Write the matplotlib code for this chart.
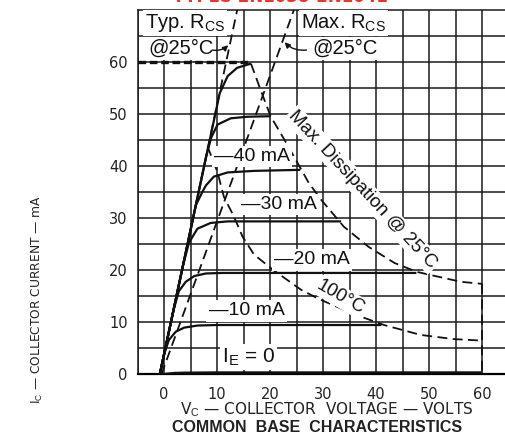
import matplotlib
matplotlib.use("Agg")
import matplotlib.pyplot as plt

# collector characteristics (V in volts, I in mA)
ie0_v = [-0.8, 0.5, 2.0, 4.0, 10.0, 60.0]
ie0_i = [0.0, 0.15, 0.3, 0.35, 0.4, 0.4]
ie10_v = [-0.8, 0.0, 0.9, 2.2, 3.8, 6.3, 10.0, 41.0]
ie10_i = [0.0, 3.8, 6.6, 8.2, 9.0, 9.4, 9.5, 9.5]
ie20_v = [-0.8, 1.8, 2.8, 4.1, 5.7, 7.9, 11.0, 47.6]
ie20_i = [0.0, 12.4, 16.0, 17.8, 18.9, 19.4, 19.5, 19.5]
ie30_v = [-0.8, 3.6, 4.7, 6.3, 8.8, 12.0, 33.4]
ie30_i = [0.0, 21.0, 25.3, 28.0, 29.1, 29.4, 29.4]
ie40_v = [-0.8, 6.0, 7.2, 7.9, 9.4, 12.0, 17.0, 25.7]
ie40_i = [0.0, 32.5, 35.0, 36.3, 38.0, 38.8, 39.1, 39.3]
ie50_v = [-0.8, 8.0, 8.9, 10.1, 12.6, 15.7, 20.1]
ie50_i = [0.0, 42.1, 45.5, 48.0, 49.2, 49.5, 49.6]
ie60_v = [-0.8, 10.5, 12.0, 13.8, 16.4]
ie60_i = [0.0, 54.0, 57.3, 58.9, 59.7]

# dissipation limits
diss25_v = [16.4, 18.2, 20.1, 22.7, 25.2, 27.3, 29.6, 33.9, 38.6, 43.5, 47.7, 52.5, 56.0, 60.0]
diss25_i = [59.7, 54.7, 49.6, 45.1, 40.6, 36.8, 33.6, 28.4, 24.5, 21.4, 19.7, 18.6, 17.8, 17.4]
diss100_v = [8.2, 10.1, 11.3, 13.2, 14.8, 17.0, 20.7, 25.8, 29.0, 35.8, 41.5, 48.4, 54.6, 60.0]
diss100_i = [43.8, 38.8, 34.1, 30.3, 26.5, 23.0, 20.0, 16.3, 14.6, 11.6, 9.5, 7.6, 6.8, 6.5]

# saturation resistance lines and the voltage / current limits
typ_rcs_v = [-0.8, 13.8]
typ_rcs_i = [0.0, 70.0]
max_rcs_v = [-0.5, 24.5]
max_rcs_i = [0.0, 70.0]
imax_v = [-5.0, 16.4]
imax_i = [60.0, 60.0]
vmax_v = [60.0, 60.0]
vmax_i = [17.4, 0.0]

x_ticks = [0, 10, 20, 30, 40, 50, 60]
y_ticks = [0, 10, 20, 30, 40, 50, 60]

narrow = ['Liberation Sans', 'DejaVu Sans']
plt.rcParams['mathtext.fontset'] = 'custom'
plt.rcParams['mathtext.rm'] = 'Liberation Sans'

fig = plt.figure(figsize=(5.05, 4.36), dpi=100)
ax = fig.add_axes([0.2723, 0.1411, 0.7349, 0.836])
ax.set_xlim(-5, 65)
ax.set_ylim(0, 70)

ax.set_xticks(x_ticks)
ax.set_yticks(y_ticks)
ax.set_xticks([v for v in range(-5, 66, 5) if v % 10], minor=True)
ax.set_yticks([v for v in range(5, 71, 10)], minor=True)
ax.grid(which='both', color='#1a1a1a', lw=1.1, zorder=0)
ax.tick_params(which='both', length=0)
ax.tick_params(axis='x', labelsize=10.5, pad=9, colors='#222222')
ax.tick_params(axis='y', labelsize=10.5, pad=7, colors='#222222')
for s in ['left', 'top']:
    ax.spines[s].set_linewidth(1.1)
    ax.spines[s].set_color('#1a1a1a')
ax.spines['bottom'].set_linewidth(1.6)
ax.spines['right'].set_visible(False)

solid = dict(color='#111111', lw=1.6, zorder=4, solid_capstyle='butt')
for v, i in [(ie0_v, ie0_i), (ie10_v, ie10_i), (ie20_v, ie20_i), (ie30_v, ie30_i),
             (ie40_v, ie40_i), (ie50_v, ie50_i), (ie60_v, ie60_i)]:
    ax.plot(v, i, **solid)

dash = dict(color='#111111', lw=1.3, ls=(0, (5.5, 3)), zorder=3)
ax.plot(diss25_v, diss25_i, **dash)
ax.plot(diss100_v, diss100_i, **dash)
ax.plot(typ_rcs_v, typ_rcs_i, **dash)
ax.plot(max_rcs_v, max_rcs_i, **dash)
ax.plot(vmax_v, vmax_i, **dash)
ax.plot(imax_v, imax_i, color='#111111', lw=2.4, ls=(0, (2.3, 1.1)), zorder=3)

box = dict(facecolor='white', edgecolor='none', pad=1.5)
lab = dict(family=narrow, color='#111111', zorder=5, va='center', bbox=box)
ax.text(-3.6, 67.5, r'Typ. R$_{\mathrm{CS}}$', ha='left', fontsize=14.5, **lab)
ax.text(-2.9, 62.6, '@25°C', ha='left', fontsize=14.5, **lab)
ax.text(25.8, 67.5, r'Max. R$_{\mathrm{CS}}$', ha='left', fontsize=14.5, **lab)
ax.text(27.9, 62.6, '@25°C', ha='left', fontsize=14.5, **lab)
ax.annotate('', xy=(12.5, 63.6), xytext=(8.6, 62.4),
            arrowprops=dict(arrowstyle='-|>', color='#111111', lw=1.0,
                            connectionstyle='arc3,rad=0.3', mutation_scale=8), zorder=6)
ax.annotate('', xy=(22.4, 64.2), xytext=(27.4, 62.4),
            arrowprops=dict(arrowstyle='-|>', color='#111111', lw=1.0,
                            connectionstyle='arc3,rad=-0.3', mutation_scale=8), zorder=6)

ax.text(9.4, 41.8, '—40 mA', ha='left', fontsize=14, **lab)
ax.text(14.5, 32.6, '—30 mA', ha='left', fontsize=14, **lab)
ax.text(20.7, 22.0, '—20 mA', ha='left', fontsize=14, **lab)
ax.text(8.4, 12.2, '—10 mA', ha='left', fontsize=14, **lab)
ax.text(10.9, 3.4, r'I$_{\mathrm{E}}$ = 0', ha='left', fontsize=15, **lab)
ax.text(37.5, 35.5, 'Max. Dissipation @ 25°C', ha='center', rotation=-47,
        rotation_mode='anchor', fontsize=13.5, **lab)
ax.text(33.3, 14.9, '100°C', ha='center', rotation=-30,
        rotation_mode='anchor', fontsize=13.5, **lab)

fig.text(0.075, 0.312, r'I$_{\mathrm{C}}$ — COLLECTOR CURRENT — mA', rotation=90,
         ha='center', va='center', fontsize=8.8, color='#222222')
fig.text(0.646, 0.060, r'V$_{\mathrm{C}}$ — COLLECTOR  VOLTAGE — VOLTS',
         ha='center', va='center', fontsize=11, color='#222222')
fig.text(0.628, 0.019, 'COMMON  BASE  CHARACTERISTICS', ha='center', va='center',
         fontsize=11.5, fontweight='bold', family=narrow, color='#222222')
# series header in red, cut off by the top edge of the scan
fig.text(0.555, 0.996, 'TYPES 2N1038-2N1041', ha='center', va='baseline',
         fontsize=12, fontweight='bold', color='#e03a2f')

fig.savefig('out.png', dpi=100)
